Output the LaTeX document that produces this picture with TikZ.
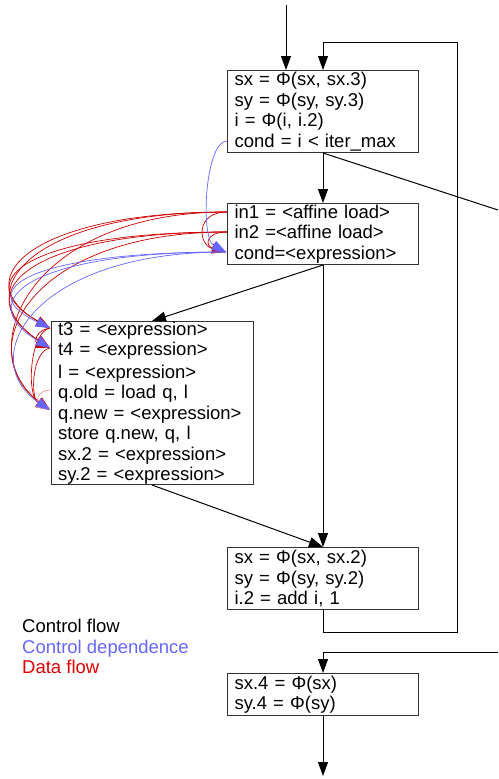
\documentclass[tikz,border=0pt]{standalone}
\usepackage{fontspec}
\setmainfont{Liberation Sans}
\usetikzlibrary{arrows.meta,calc}
\definecolor{cdblue}{RGB}{102,102,255}
\definecolor{dfred}{RGB}{204,0,0}
\definecolor{lgred}{RGB}{221,0,0}
\begin{document}
\begin{tikzpicture}[x=1pt,y=-1pt,
  box/.style={draw=black!80, line width=1pt, anchor=north west, inner xsep=7pt, inner ysep=0pt,
    align=left, font=\fontsize{18.5}{20.5}\selectfont},
  cf/.style={line width=1pt, -{Triangle[length=14pt,width=10pt]}},
  plain/.style={line width=1pt},
  cd/.style={cdblue, line width=0.7pt, -{Triangle[length=14pt,width=10pt]}},
  df/.style={dfred, line width=0.7pt, -{Triangle[length=14pt,width=10pt]}},
  lg/.style={anchor=base west, inner sep=0pt, font=\fontsize{18.5}{20.5}\selectfont}]
\useasboundingbox (0,0) rectangle (498,779);

% boxes
\node[box, text width=177pt, minimum width=191pt, minimum height=82pt] (A) at (227,70)
  {sx = Φ(sx, sx.3)\\ sy = Φ(sy, sy.3)\\ i = Φ(i, i.2)\\ cond = i < iter\_max};
\node[box, text width=177pt, minimum width=191pt, minimum height=61pt] (B) at (227,203)
  {in1 = <affine load>\\ in2 =<affine load>\\ cond=<expression>};
\node[box, text width=188pt, minimum width=202pt, minimum height=163pt] (C) at (50.5,321)
  {t3 = <expression>\\ t4 = <expression>\\ \kern2pt l = <expression>\\ q.old = load q, l\\ q.new = <expression>\\ store q.new, q, l\\ sx.2 = <expression>\\ sy.2 = <expression>};
\node[box, text width=177pt, minimum width=191pt, minimum height=62pt] (D) at (227,547)
  {sx = Φ(sx, sx.2)\\ sy = Φ(sy, sy.2)\\ i.2 = add i, 1};
\node[box, text width=177pt, minimum width=191pt, minimum height=42pt] (E) at (227,673)
  {sx.4 = Φ(sx)\\ sy.4 = Φ(sy)};

% legend
\node[lg] (l1) at (22,632) {Control flow};
\node[lg, text=cdblue] (l2) at (22,653) {Control dependence};
\node[lg, text=lgred] (l3) at (22,673) {Data flow};

% free ends
\coordinate (top) at (286,5);
\coordinate (back1) at ($(D.south)+(0,22)$);
\coordinate (back2) at (457,0 |- back1);
\coordinate (back3) at (457,42);
\coordinate (back4) at (A.north |- back3);
\coordinate (exit1) at (498,210);
\coordinate (entry1) at (498,652);
\coordinate (entry2) at (E.north |- entry1);
\coordinate (bottom) at ($(E.south)+(0,60)$);

% control flow
\draw[cf] (top) -- (top |- A.north);
\draw[cf] (D.south) -- (back1) -- (back2) -- (back3) -- (back4) -- (A.north);
\draw[cf] (A.south) -- (B.north);
\draw[plain] (A.south) -- (exit1);
\draw[cf] (B.south) -- (C.north);
\draw[cf] (B.south) -- (D.north);
\draw[cf] (C.south) -- (D.north);
\draw[cf] (entry1) -- (entry2) -- (E.north);
\draw[cf] (E.south) -- (bottom);

% line anchors
\coordinate (Acond) at (227,141);
\coordinate (Bin1) at (227,212);
\coordinate (Bin2) at (227,232);
\coordinate (Bcond) at (226,252);
\coordinate (Ct3) at (50,328);
\coordinate (Ct4) at (50,348);
\coordinate (Cqold) at (50,390);
\coordinate (Cqnew) at (50,410);

% data flow
\foreach \s/\yy in {Bin1/212,Bin2/232}{
  \draw[df] (\s) .. controls (30,\yy) and (-35,280) .. (Ct3);
  \draw[df] (\s) .. controls (30,\yy) and (-35,292) .. (Ct4);
  \draw[df] (\s) .. controls (30,\yy) and (-30,350) .. (Cqnew);
}
\draw[df] (Bin1) .. controls (195,212) and (198,245) .. (Bcond);
\draw[df] (Bin2) .. controls (205,232) and (205,246) .. (Bcond);
\draw[df] (Ct3) .. controls (36,330) and (34,342) .. (Ct4);
\draw[df] (Ct3) .. controls (30,332) and (26,395) .. (Cqnew);
\draw[df] (Ct4) .. controls (32,351) and (30,398) .. (Cqnew);
\draw[df, dfred!40] (Cqold) .. controls (38,390) and (36,402) .. (Cqnew);

% control dependence
\draw[cd] (Bcond) .. controls (30,252) and (-30,290) .. (Ct3);
\draw[cd] (Bcond) .. controls (30,252) and (-30,300) .. (Ct4);
\draw[cd] (Bcond) .. controls (30,252) and (-25,360) .. (Cqnew);
\draw[cd] (Acond) .. controls (205,141) and (200,238) .. (Bcond);
\end{tikzpicture}
\end{document}
